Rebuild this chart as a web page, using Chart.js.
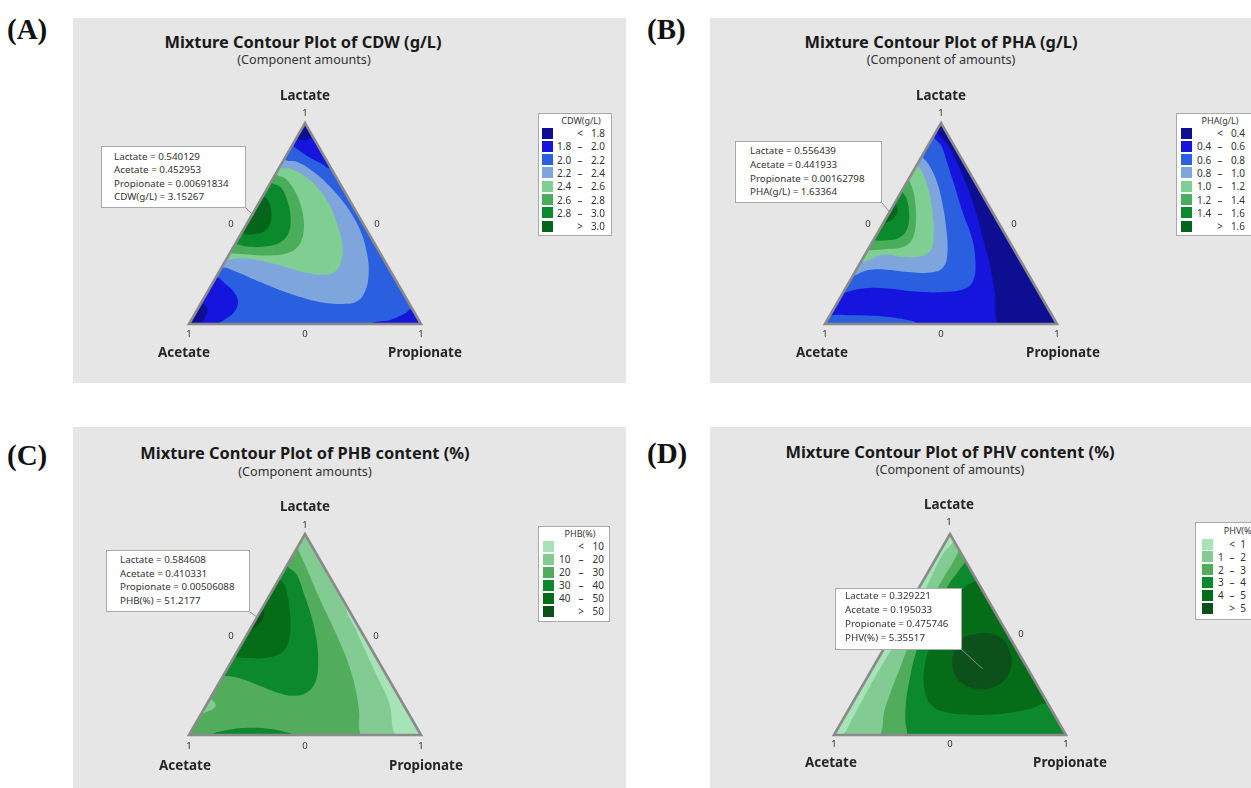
<!DOCTYPE html>
<html lang="en">
<head>
<meta charset="utf-8">
<title>Mixture contour plots</title>
<script src="https://cdn.jsdelivr.net/npm/chart.js@4.4.1/dist/chart.umd.min.js"></script>
<style>
  html, body { margin: 0; padding: 0; }
  body { position: relative; width: 1251px; height: 788px; overflow: hidden; background: #fff;
         font-family: "Noto Sans", "DejaVu Sans", sans-serif; color: #1e1e1e; }
  .t { position: absolute; white-space: nowrap; line-height: 1; }
  .c { transform: translate(-50%, -50%); }
  .l { transform: translate(0, -50%); }
  .r { transform: translate(-100%, -50%); }
  .panel { position: absolute; background: #e6e6e6; }
  .tag { font-family: "Liberation Serif", serif; font-weight: bold; font-size: 29px; color: #111; }
  .title { font-weight: bold; font-size: 16.4px; color: #1a1a1a; }
  .sub { font-size: 12.6px; color: #333; }
  .axis { font-weight: bold; font-size: 13.4px; color: #262626; }
  .tick { font-size: 9.5px; color: #333; }
  .box { position: absolute; background: #fff; border: 1px solid #a9a9a9; box-sizing: border-box; }
  .note { font-size: 9.8px; color: #333; }
  .key { font-size: 10px; color: #333; }
  .keyttl { font-size: 9px; color: #333; }
  .sw { position: absolute; width: 11px; height: 11px; }
  canvas { position: absolute; }
</style>
</head>
<body>
<script>
// ---- data -------------------------------------------------------------
const components = ['Lactate', 'Acetate', 'Propionate'];

// contour break points for each response
const cdwBreaks = [1.8, 2.0, 2.2, 2.4, 2.6, 2.8, 3.0];
const phaBreaks = [0.4, 0.6, 0.8, 1.0, 1.2, 1.4, 1.6];
const phbBreaks = [10, 20, 30, 40, 50];
const phvBreaks = [1, 2, 3, 4, 5];

// band colours, lowest band first
const blueGreen = ['#0e0e93', '#1515dd', '#2a5fe0', '#7ea6dc', '#80cf92', '#4aad59', '#0b8a2d', '#05661b'];
const greens = ['#a6e3b6', '#82cc94', '#51ad5c', '#0c892c', '#056d17', '#0b5119'];

// selected design points: lactate, acetate, propionate, response
const cdwPick = [0.540129, 0.452953, 0.00691834, 3.15267];
const phaPick = [0.556439, 0.441933, 0.00162798, 1.63364];
const phbPick = [0.584608, 0.410331, 0.00506088, 51.2177];
const phvPick = [0.329221, 0.195033, 0.475746, 5.35517];

// contour bands: [band, enclosed vertices, boundary as [lactate, propionate] pairs]
// painted in order, later bands on top; '*' marks a closed boundary
const cdwRegions = [
  [2, 'APL', []],
  [1, 'L', [[0.894, 0], [0.864, 0.042], [0.831, 0.101], [0.801, 0.166], [0.777, 0.223]]],
  [0, 'L', [[0.93, 0], [0.915, 0.045], [0.94, 0.06]]],
  [3, '', [[0.822, 0], [0.806, 0.064], [0.756, 0.160], [0.681, 0.269], [0.581, 0.391], [0.465, 0.506], [0.349, 0.593], [0.249, 0.650], [0.166, 0.677], [0.113, 0.668], [0.100, 0.617], [0.108, 0.513], [0.150, 0.363], [0.208, 0.205], [0.258, 0.079], [0.282, 0]]],
  [4, '', [[0.784, 0], [0.772, 0.051], [0.739, 0.125], [0.681, 0.212], [0.598, 0.304], [0.498, 0.389], [0.399, 0.461], [0.316, 0.499], [0.263, 0.500], [0.246, 0.458], [0.258, 0.366], [0.291, 0.249], [0.319, 0.135], [0.327, 0.044], [0.316, 0]]],
  [5, '', [[0.748, 0], [0.723, 0.055], [0.656, 0.131], [0.565, 0.205], [0.465, 0.262], [0.390, 0.278], [0.352, 0.247], [0.341, 0.167], [0.346, 0.078], [0.352, 0]]],
  [6, '', [[0.706, 0], [0.681, 0.054], [0.615, 0.116], [0.532, 0.172], [0.457, 0.202], [0.407, 0.191], [0.385, 0.130], [0.385, 0.058], [0.399, 0]]],
  [7, '', [[0.640, 0], [0.615, 0.033], [0.565, 0.072], [0.507, 0.098], [0.465, 0.097], [0.449, 0.070], [0.449, 0]]],
  [1, 'A', [[0.233, 0], [0.199, 0.058], [0.158, 0.115], [0.108, 0.157], [0.058, 0.165], [0.020, 0.141], [0, 0.122]]],
  [0, 'A', [[0.10, 0], [0.075, 0.042], [0.025, 0.052], [0, 0.043]]],
  [1, 'P', [[0, 0.789], [0.020, 0.858], [0.053, 0.906], [0.075, 0.925]]]
];

const phaRegions = [
  [1, 'APL', []],
  [0, 'PL', [[0.962, 0], [0.903, 0.070], [0.820, 0.152], [0.703, 0.255], [0.570, 0.362], [0.420, 0.472], [0.287, 0.568], [0.153, 0.655], [0, 0.744]]],
  [2, '', [[0.937, 0], [0.887, 0.058], [0.803, 0.125], [0.687, 0.215], [0.553, 0.318], [0.420, 0.425], [0.303, 0.497], [0.220, 0.530], [0.178, 0.519], [0.160, 0.443], [0.160, 0.324], [0.177, 0.179], [0.177, 0.077], [0.153, 0]]],
  [3, '', [[0.837, 0], [0.795, 0.049], [0.712, 0.125], [0.603, 0.204], [0.470, 0.288], [0.353, 0.351], [0.283, 0.369], [0.257, 0.335], [0.257, 0.241], [0.270, 0.132], [0.267, 0.049], [0.237, 0]]],
  [4, '', [[0.795, 0], [0.753, 0.044], [0.670, 0.111], [0.553, 0.187], [0.437, 0.250], [0.367, 0.272], [0.337, 0.244], [0.333, 0.169], [0.345, 0.078], [0.303, 0]]],
  [5, '', [[0.720, 0], [0.670, 0.043], [0.587, 0.097], [0.487, 0.147], [0.417, 0.165], [0.383, 0.144], [0.373, 0.081], [0.367, 0]]],
  [6, '', [[0.662, 0], [0.620, 0.043], [0.545, 0.090], [0.470, 0.118], [0.428, 0.104], [0.417, 0.059], [0.417, 0]]],
  [7, '', [[0.600, 0], [0.575, 0.025], [0.535, 0.036], [0.505, 0]]],
  [2, 'A', [[0.040, 0], [0.043, 0.092], [0.037, 0.232], [0.020, 0.343], [0, 0.395]]]
];

const phbRegions = [
  [2, 'APL', []],
  [1, 'PL', [[0.937, 0], [0.895, 0.034], [0.828, 0.093], [0.712, 0.194], [0.587, 0.307], [0.462, 0.419], [0.345, 0.518], [0.228, 0.604], [0.120, 0.673], [0, 0.740]]],
  [0, 'P', [[0.653, 0.347], [0.520, 0.461], [0.303, 0.655], [0.153, 0.788], [0, 0.890]]],
  [3, '', [[0.845, 0], [0.803, 0.060], [0.703, 0.144], [0.587, 0.235], [0.470, 0.315], [0.362, 0.376], [0.270, 0.412], [0.217, 0.406], [0.195, 0.360], [0.212, 0.273], [0.250, 0.168], [0.283, 0.073], [0.295, 0]]],
  [4, '', [[0.778, 0], [0.753, 0.033], [0.678, 0.089], [0.595, 0.138], [0.512, 0.180], [0.440, 0.201], [0.400, 0.186], [0.383, 0.130], [0.383, 0.058], [0.390, 0]]],
  [5, '', [[0.630, 0], [0.605, 0.022], [0.560, 0.030], [0.530, 0]]],
  [3, '', [[0, 0.095], [0.022, 0.142], [0.036, 0.236], [0.030, 0.338], [0.012, 0.417], [0, 0.445]]],
  [1, '', [[0.178, 0], [0.140, 0.044], [0.103, 0]]]
];

const phvRegions = [
  [1, 'APL', []],
  [0, 'LA', [[0, 0.036], [0.083, 0.038], [0.267, 0.033], [0.467, 0.034], [0.700, 0.032], [0.900, 0.019], [0.970, 0.030]]],
  [2, 'P', [[0.925, 0.075], [0.875, 0.082], [0.775, 0.081], [0.658, 0.082], [0.542, 0.090], [0.433, 0.101], [0.333, 0.118], [0.217, 0.137], [0.117, 0.158], [0, 0.198]]],
  [3, 'P', [[0.867, 0.133], [0.825, 0.129], [0.742, 0.120], [0.617, 0.125], [0.500, 0.132], [0.383, 0.155], [0.267, 0.191], [0.167, 0.227], [0.067, 0.274], [0, 0.313]]],
  [4, '', [[0.775, 0.225], [0.742, 0.199], [0.667, 0.179], [0.550, 0.180], [0.433, 0.195], [0.333, 0.223], [0.233, 0.273], [0.150, 0.343], [0.113, 0.427], [0.100, 0.549], [0.108, 0.689], [0.130, 0.779], [0.158, 0.842]]],
  [5, '*', [[0.483, 0.314], [0.508, 0.388], [0.483, 0.480], [0.417, 0.549], [0.350, 0.590], [0.275, 0.598], [0.233, 0.554], [0.233, 0.482], [0.267, 0.408], [0.333, 0.346], [0.408, 0.311]]]
];

// ---- geometry ---------------------------------------------------------
const SQ = Math.sqrt(3) / 2;
function toXY(l, p) { return { x: p + l / 2, y: l * SQ }; }
const VERT = { A: toXY(0, 0), P: toXY(0, 1), L: toXY(1, 0) };
const CEN = { x: 0.5, y: SQ / 3 };
function away(pt, k) { return { x: CEN.x + (pt.x - CEN.x) * k, y: CEN.y + (pt.y - CEN.y) * k }; }

// boundary curve, continued outside the frame and round the enclosed vertices
function regionPath(corners, pts) {
  const c = pts.map(([l, p]) => toXY(l, p));
  if (corners === '*') return c.concat([c[0], c[1]]);
  const path = [];
  if (c.length) path.push(away(c[0], 1.25), ...c, away(c[c.length - 1], 1.25));
  for (const v of corners) path.push(away(VERT[v], 1.3));
  return path;
}

function keyRows(breaks, digits) {
  const f = v => v.toFixed(digits);
  const rows = [['', '<', f(breaks[0])]];
  for (let i = 1; i < breaks.length; i++) rows.push([f(breaks[i - 1]), '\u2013', f(breaks[i])]);
  rows.push(['', '>', f(breaks[breaks.length - 1])]);
  return rows;
}

// ---- page layout -------------------------------------------------------
const panels = [
  { tag: '(A)', tagAt: [7, 29], bg: [73, 18, 553, 365],
    title: 'Mixture Contour Plot of CDW (g/L)', titleAt: [303, 42], sub: '(Component amounts)', subAt: [304, 60],
    tri: [189, 324], regions: cdwRegions, colors: blueGreen,
    lactAt: [305, 96], topAt: [305, 113], zeroL: [231, 224], zeroR: [377, 224], baseY: 334, aceAt: [184, 353], proAt: [425, 353],
    response: 'CDW(g/L)', pick: cdwPick, note: [101, 146, 145, 62], notePad: 13, noteY: 11, noteStep: 13.4,
    key: [538, 113, 74, 123], rows: keyRows(cdwBreaks, 1), keyY: 133, keyStep: 13.3, keyTitleY: 120, cols: [4, 19, 42, 67] },
  { tag: '(B)', tagAt: [647, 29], bg: [710, 18, 541, 365],
    title: 'Mixture Contour Plot of PHA (g/L)', titleAt: [941, 42], sub: '(Component of amounts)', subAt: [941, 60],
    tri: [825, 324], regions: phaRegions, colors: blueGreen,
    lactAt: [941, 96], topAt: [941, 113], zeroL: [868, 224], zeroR: [1014, 224], baseY: 334, aceAt: [822, 353], proAt: [1063, 353],
    response: 'PHA(g/L)', pick: phaPick, note: [735, 141, 147, 62], notePad: 15, noteY: 10, noteStep: 13.8,
    key: [1176, 113, 76, 123], rows: keyRows(phaBreaks, 1), keyY: 133, keyStep: 13.3, keyTitleY: 120, cols: [5, 21, 44, 69] },
  { tag: '(C)', tagAt: [7, 455], bg: [73, 427, 553, 361],
    title: 'Mixture Contour Plot of PHB content (%)', titleAt: [305, 453], sub: '(Component amounts)', subAt: [305, 472],
    tri: [189, 735], regions: phbRegions, colors: greens,
    lactAt: [305, 507], topAt: [305, 525], zeroL: [231, 636], zeroR: [376, 636], baseY: 746, aceAt: [185, 766], proAt: [426, 766],
    response: 'PHB(%)', pick: phbPick, note: [106, 550, 144, 62], notePad: 14, noteY: 10, noteStep: 13.7,
    key: [538, 526, 72, 96], rows: keyRows(phbBreaks, 0), keyY: 546, keyStep: 13, keyTitleY: 533, cols: [5, 21, 43, 66] },
  { tag: '(D)', tagAt: [647, 453], bg: [710, 427, 541, 361],
    title: 'Mixture Contour Plot of PHV content (%)', titleAt: [950, 452], sub: '(Component of amounts)', subAt: [950, 470],
    tri: [834, 735], regions: phvRegions, colors: greens,
    lactAt: [949, 505], topAt: [949, 522], zeroL: [876, 634], zeroR: [1021, 634], baseY: 744, aceAt: [831, 763], proAt: [1070, 763],
    response: 'PHV(%)', pick: phvPick, note: [835, 588, 127, 62], notePad: 10, noteY: 8, noteStep: 14,
    key: [1195, 522, 76, 98], rows: keyRows(phvBreaks, 0), keyY: 544, keyStep: 12.8, keyTitleY: 530, cols: [7, 23, 37, 51] }
];

function addText(cls, text, x, y, align) {
  const d = document.createElement('div');
  d.className = 't ' + cls + ' ' + (align || 'c');
  d.textContent = text;
  d.style.left = x + 'px';
  d.style.top = y + 'px';
  document.body.appendChild(d);
  return d;
}
function addBox(cls, x, y, w, h) {
  const d = document.createElement('div');
  d.className = cls;
  Object.assign(d.style, { left: x + 'px', top: y + 'px', width: w + 'px', height: h + 'px' });
  document.body.appendChild(d);
  return d;
}

// clips the contour fills to the simplex, then draws its frame and the pick leader
const simplexFrame = {
  id: 'simplexFrame',
  beforeDatasetsDraw(chart) {
    chart.ctx.save();
    traceSimplex(chart);
    chart.ctx.clip();
  },
  afterDatasetsDraw(chart, args, opts) {
    const ctx = chart.ctx;
    ctx.restore();
    ctx.save();
    traceSimplex(chart);
    ctx.strokeStyle = '#8a8a8a';
    ctx.lineWidth = 2.6;
    ctx.lineJoin = 'miter';
    ctx.stroke();
    const pt = toXY(opts.pick[0], opts.pick[2]);
    const px = chart.scales.x.getPixelForValue(pt.x);
    const py = chart.scales.y.getPixelForValue(pt.y);
    ctx.beginPath();
    ctx.moveTo(px, py);
    ctx.lineTo(opts.anchor[0], opts.anchor[1]);
    ctx.strokeStyle = '#8f8f8f';
    ctx.lineWidth = 1;
    ctx.stroke();
    ctx.restore();
  }
};
function traceSimplex(chart) {
  const ctx = chart.ctx, sx = chart.scales.x, sy = chart.scales.y;
  ctx.beginPath();
  [VERT.A, VERT.P, VERT.L].forEach((v, i) => {
    const X = sx.getPixelForValue(v.x), Y = sy.getPixelForValue(v.y);
    if (i) ctx.lineTo(X, Y); else ctx.moveTo(X, Y);
  });
  ctx.closePath();
}

const M = 40, W = 232, H = Math.round(W * SQ);

for (const p of panels) {
  addBox('panel', ...p.bg);
  addText('tag', p.tag, p.tagAt[0], p.tagAt[1], 'l');
  addText('title', p.title, ...p.titleAt);
  addText('sub', p.sub, ...p.subAt);

  // contour map
  const cv = document.createElement('canvas');
  cv.width = W + 2 * M;
  cv.height = H + 2 * M;
  const cl = p.tri[0] - M, ct = p.tri[1] - H - M;
  cv.style.left = cl + 'px';
  cv.style.top = ct + 'px';
  document.body.appendChild(cv);

  const datasets = p.regions.map((r, i) => ({
    data: regionPath(r[1], r[2]),
    backgroundColor: p.colors[r[0]],
    borderColor: 'rgba(0,0,0,0)',
    borderWidth: 0,
    fill: 'shape',
    showLine: true,
    tension: r[2].length ? 0.4 : 0,
    pointRadius: 0,
    order: -i
  }));

  new Chart(cv, {
    type: 'scatter',
    data: { datasets },
    options: {
      responsive: false,
      maintainAspectRatio: false,
      animation: false,
      devicePixelRatio: 1,
      events: [],
      layout: { padding: M },
      scales: {
        x: { type: 'linear', min: 0, max: 1, display: false },
        y: { type: 'linear', min: 0, max: SQ, display: false }
      },
      elements: {
        point: { radius: 0, hoverRadius: 0 },
        line: { borderWidth: 0, capBezierPoints: false }
      },
      plugins: {
        legend: { display: false },
        tooltip: { enabled: false },
        simplexFrame: { pick: p.pick, anchor: [p.note[0] + p.note[2] - cl, p.note[1] + p.note[3] - ct] }
      }
    },
    plugins: [simplexFrame]
  });

  // vertex labels and ticks
  addText('axis', components[0], ...p.lactAt);
  addText('tick', '1', ...p.topAt);
  addText('tick', '0', ...p.zeroL);
  addText('tick', '0', ...p.zeroR);
  addText('tick', '1', p.tri[0], p.baseY);
  addText('tick', '0', p.tri[0] + W / 2, p.baseY);
  addText('tick', '1', p.tri[0] + W, p.baseY);
  addText('axis', components[1], ...p.aceAt);
  addText('axis', components[2], ...p.proAt);

  // selected point read-out
  const [nx, ny, nw, nh] = p.note;
  addBox('box', nx, ny, nw, nh);
  const lines = [
    components[0] + ' = ' + p.pick[0],
    components[1] + ' = ' + p.pick[1],
    components[2] + ' = ' + p.pick[2],
    p.response + ' = ' + p.pick[3]
  ];
  lines.forEach((s, i) => addText('note', s, nx + p.notePad, ny + p.noteY + i * p.noteStep, 'l'));

  // contour key
  const [kx, ky, kw, kh] = p.key;
  addBox('box', kx, ky, kw, kh);
  addText('keyttl', p.response, kx + kw / 2 + 6, p.keyTitleY);
  p.rows.forEach((row, i) => {
    const y = p.keyY + i * p.keyStep;
    const sw = addBox('sw', kx + p.cols[0], y - 5.5, 11, 11);
    sw.style.background = p.colors[i];
    if (row[0]) addText('key', row[0], kx + p.cols[1], y, 'l');
    addText('key', row[1], kx + p.cols[2], y);
    addText('key', row[2], kx + p.cols[3], y, 'r');
  });
}
</script>
</body>
</html>
